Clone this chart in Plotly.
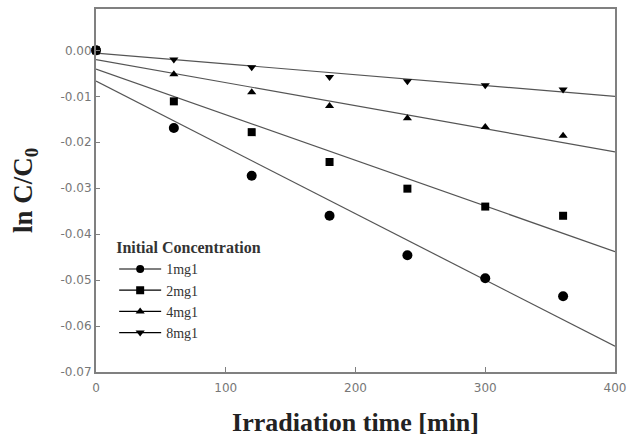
import plotly.graph_objects as go

# data
time_min = [0, 60, 120, 180, 240, 300, 360]
c_1mg = [0.0, -0.0169, -0.0273, -0.0360, -0.0446, -0.0496, -0.0535]
c_2mg = [0.0, -0.0111, -0.0178, -0.0243, -0.0301, -0.0340, -0.0360]
c_4mg = [0.0, -0.0052, -0.0091, -0.0121, -0.0148, -0.0167, -0.0186]
c_8mg = [0.0, -0.0020, -0.0037, -0.0058, -0.0067, -0.0076, -0.0085]

series_names = ["1mg1", "2mg1", "4mg1", "8mg1"]
series_values = [c_1mg, c_2mg, c_4mg, c_8mg]
series_symbols = ["circle", "square", "triangle-up", "triangle-down"]

# linear fit lines read at the plot edges
fit_x = [0, 400]
fit_start = [-0.0067, -0.0041, -0.0020, -0.0006]
fit_end = [-0.0644, -0.0438, -0.0221, -0.0100]

x_ticks = [0, 100, 200, 300, 400]
y_ticks = [0.00, -0.01, -0.02, -0.03, -0.04, -0.05, -0.06, -0.07]
y_tick_labels = ["0.00", "-0.01", "-0.02", "-0.03", "-0.04", "-0.05", "-0.06", "-0.07"]

marker_sizes = [10, 8, 8, 8]

fig = go.Figure()

for i, name in enumerate(series_names):
    fig.add_trace(go.Scatter(
        x=fit_x, y=[fit_start[i], fit_end[i]], mode="lines",
        line=dict(color="#555555", width=1.2), showlegend=False, hoverinfo="skip"))

# draw markers from last series to first so the circles sit on top
for i in reversed(range(len(series_names))):
    fig.add_trace(go.Scatter(
        x=time_min, y=series_values[i], mode="markers", cliponaxis=False,
        marker=dict(symbol=series_symbols[i], size=marker_sizes[i], color="black"),
        showlegend=False, name=series_names[i]))

for i, name in enumerate(series_names):
    fig.add_trace(go.Scatter(
        x=[None], y=[None], mode="lines+markers", name=name,
        line=dict(color="black", width=1.2),
        marker=dict(symbol=series_symbols[i], size=8, color="black")))

serif = "Liberation Serif, Times New Roman, serif"
axis_font = dict(family="DejaVu Sans, sans-serif", size=12, color="#777777")

fig.update_layout(
    width=639, height=439,
    margin=dict(l=96, r=24, t=7, b=67),
    plot_bgcolor="white", paper_bgcolor="white",
    showlegend=True,
    legend=dict(
        x=0.035, y=0.384, xanchor="left", yanchor="top",
        bgcolor="rgba(0,0,0,0)",
        title=dict(text="<b>Initial Concentration</b>",
                   font=dict(family=serif, size=16, color="#333333")),
        font=dict(family=serif, size=14, color="#333333"),
        tracegroupgap=0, itemsizing="trace", itemwidth=42,
    ),
    xaxis=dict(
        range=[0, 400], tickvals=x_ticks, ticktext=[str(v) for v in x_ticks],
        showline=True, linecolor="#808080", linewidth=2, mirror=True,
        ticks="inside", ticklen=5, tickcolor="#808080", tickwidth=1,
        showgrid=False, zeroline=False, tickfont=axis_font, ticklabelstandoff=4,
        title=dict(text="<b>Irradiation time [min]</b>",
                   font=dict(family=serif, size=26, color="#222222"), standoff=18),
    ),
    yaxis=dict(
        range=[-0.07, 0.009], tickvals=y_ticks, ticktext=y_tick_labels,
        showline=True, linecolor="#808080", linewidth=2, mirror=True,
        ticks="inside", ticklen=4, tickcolor="#808080", tickwidth=1,
        showgrid=False, zeroline=False, tickfont=axis_font,
        title=dict(text="<b>ln C/C<sub>0</sub></b>",
                   font=dict(family=serif, size=27, color="#222222"), standoff=20),
    ),
)

fig.write_html("out.html", config={"displayModeBar": False},
               post_script="document.body.style.margin='0';")
